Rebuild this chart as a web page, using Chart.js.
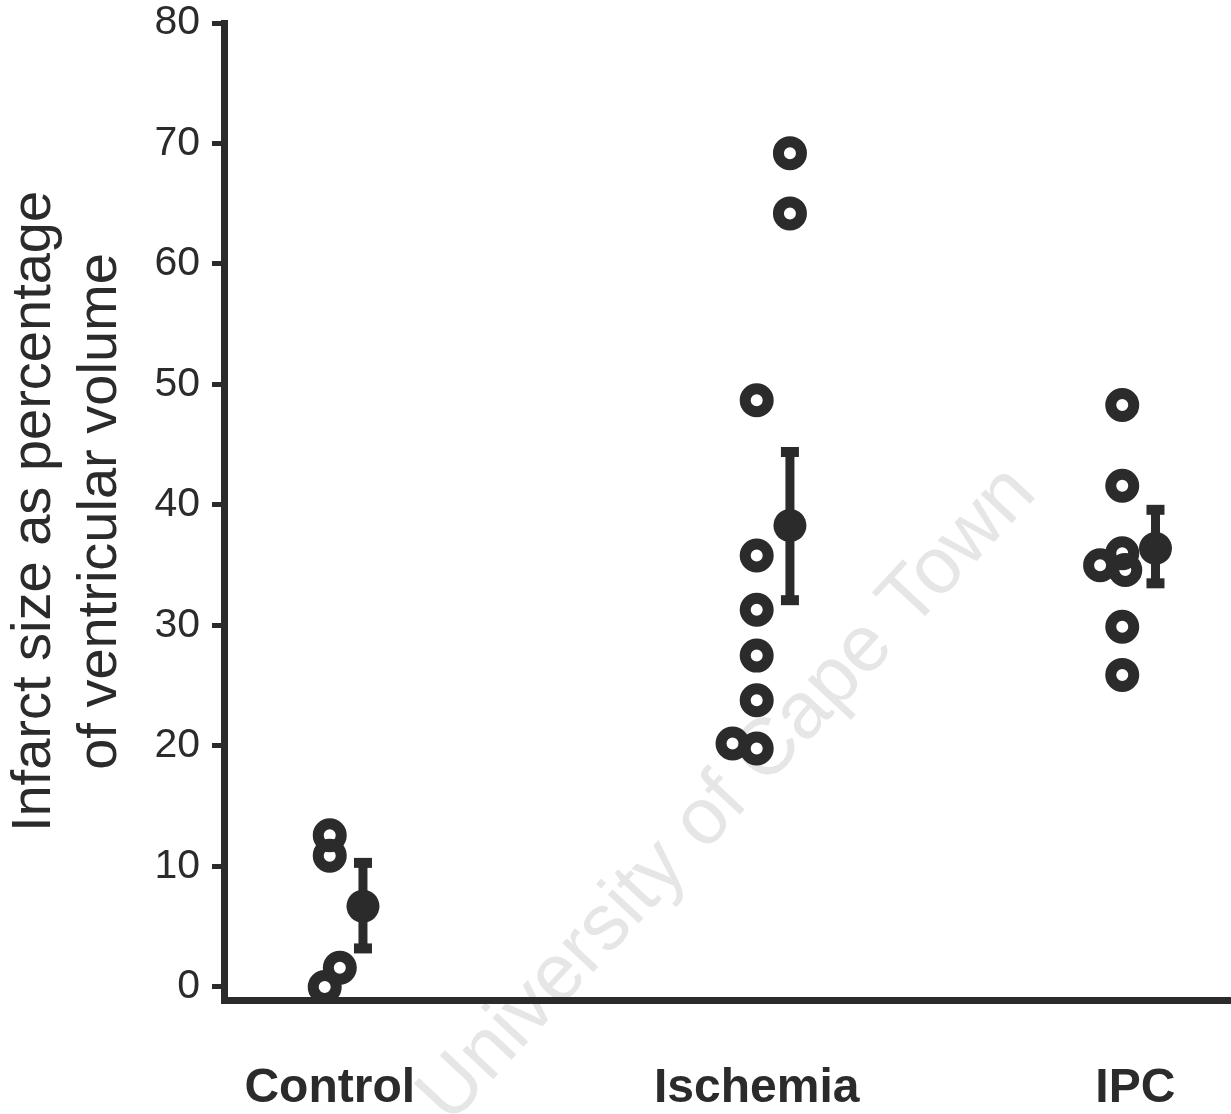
<!DOCTYPE html>
<html>
<head>
<meta charset="utf-8">
<script src="https://cdn.jsdelivr.net/npm/chart.js@4/dist/chart.umd.min.js"></script>
<style>
  html, body { margin: 0; padding: 0; background: #fff; overflow: hidden; }
  #wrap { width: 1231px; height: 1114px; position: relative; }
  #myChart { display: block; }
</style>
</head>
<body>
<div id="wrap"><canvas id="myChart"></canvas></div>
<script>
// groups and where they sit on the x axis (axis units 0..10)
const grupos = ["Control", "Ischemia", "IPC"];
const grupoPos = [1.05, 5.29, 9.05];

// individual hearts (open circles)
const controlX = [1.05, 1.05, 1.15, 1.0];
const controlY = [12.6, 10.9, 1.6, 0];
const ischemiaX = [5.62, 5.62, 5.29, 5.29, 5.29, 5.29, 5.29, 5.05, 5.29];
const ischemiaY = [69.2, 64.2, 48.7, 35.8, 31.3, 27.5, 23.8, 20.2, 19.8];
const ipcX = [8.92, 8.92, 8.70, 8.92, 8.95, 8.92, 8.92];
const ipcY = [48.3, 41.6, 35.0, 36.0, 34.6, 29.9, 25.9];

// mean +/- error (filled circle with bar)
const mediaX = [1.38, 5.62, 9.25];
const mediaY = [6.7, 38.3, 36.4];
const errAlto = [10.3, 44.4, 39.6];
const errBajo = [3.2, 32.1, 33.5];

const yTicks = [0, 10, 20, 30, 40, 50, 60, 70, 80];

const negro = "#2b2b2b";

const puntos = (xs, ys) => xs.map((x, i) => ({ x, y: ys[i] }));

// common style of the open circles
let circuloAbierto = {
  type: "scatter",
  pointStyle: "circle",
  pointRadius: 11.5,
  pointHoverRadius: 11.5,
  pointBorderWidth: 11,
  pointBorderColor: negro,
  pointBackgroundColor: "rgba(0,0,0,0)",
  showLine: false,
};

// error bars: one little line dataset per group
const barras = mediaX.map((x, i) => ({
  type: "line",
  data: [{ x, y: errBajo[i] }, { x, y: errAlto[i] }],
  borderColor: negro,
  borderWidth: 9,
  pointStyle: "line",
  pointRadius: 9,
  pointHoverRadius: 9,
  pointBorderWidth: 10,
  pointBorderColor: negro,
  fill: false,
}));

// faint watermark, under everything else
const marcaAgua = {
  id: "marcaAgua",
  beforeDraw(chart) {
    const ctx = chart.ctx;
    ctx.save();
    ctx.translate(728, 795);
    ctx.rotate(-47 * Math.PI / 180);
    ctx.font = "80px 'Liberation Sans', Arial, sans-serif";
    ctx.fillStyle = "#e6e6e6";
    ctx.textAlign = "center";
    ctx.textBaseline = "middle";
    ctx.fillText("University of Cape Town", 0, 0);
    ctx.restore();
  },
};

const ctx = document.getElementById("myChart").getContext("2d");

new Chart(ctx, {
  data: {
    datasets: [
      ...barras,
      { ...circuloAbierto, label: "Control", data: puntos(controlX, controlY) },
      { ...circuloAbierto, label: "Ischemia", data: puntos(ischemiaX, ischemiaY) },
      { ...circuloAbierto, label: "IPC", data: puntos(ipcX, ipcY) },
      {
        type: "scatter",
        label: "Mean",
        data: puntos(mediaX, mediaY),
        pointStyle: "circle",
        pointRadius: 16.5,
        pointHoverRadius: 16.5,
        pointBorderWidth: 0,
        pointBackgroundColor: negro,
      },
    ],
  },
  options: {
    responsive: true,
    maintainAspectRatio: false,
    animation: false,
    // no auto padding, the big markers would shrink the plot otherwise
    layout: { autoPadding: false, padding: { top: 23, left: 0, right: 0, bottom: 0 } },
    plugins: {
      legend: { display: false },
      tooltip: { enabled: false },
    },
    scales: {
      x: {
        type: "linear",
        position: "bottom",
        min: 0,
        max: 10,
        afterBuildTicks: (s) => { s.ticks = grupoPos.map((v) => ({ value: v })); },
        afterFit: (s) => {
          s.height = 114;
          s.paddingLeft = 0;
          s.paddingRight = 0;
        },
        ticks: {
          autoSkip: false,
          maxRotation: 0,
          padding: 60,
          color: negro,
          font: { family: "'Liberation Sans', Arial, sans-serif", size: 48, weight: "bold" },
          callback: (v, i) => grupos[i],
        },
        grid: { display: true, drawOnChartArea: false, drawTicks: false },
        border: { display: true, color: negro, width: 7 },
      },
      y: {
        type: "linear",
        position: "left",
        min: -1.08,
        max: 80,
        afterBuildTicks: (s) => { s.ticks = yTicks.map((v) => ({ value: v })); },
        afterFit: (s) => {
          s.width = 224;
          s.paddingTop = 0;
          s.paddingBottom = 0;
        },
        ticks: {
          padding: 12,
          color: negro,
          font: { family: "'Liberation Sans', Arial, sans-serif", size: 41 },
        },
        grid: {
          drawOnChartArea: false,
          drawTicks: true,
          tickLength: 12,
          tickWidth: 5,
          tickColor: negro,
        },
        border: { display: true, color: negro, width: 7 },
        title: {
          display: true,
          text: ["Infarct size as percentage", "of ventricular volume"],
          color: negro,
          padding: { top: 2, bottom: 0 },
          font: { family: "'Liberation Sans', Arial, sans-serif", size: 56, lineHeight: 1.17 },
        },
      },
    },
  },
  plugins: [marcaAgua],
});
</script>
</body>
</html>
